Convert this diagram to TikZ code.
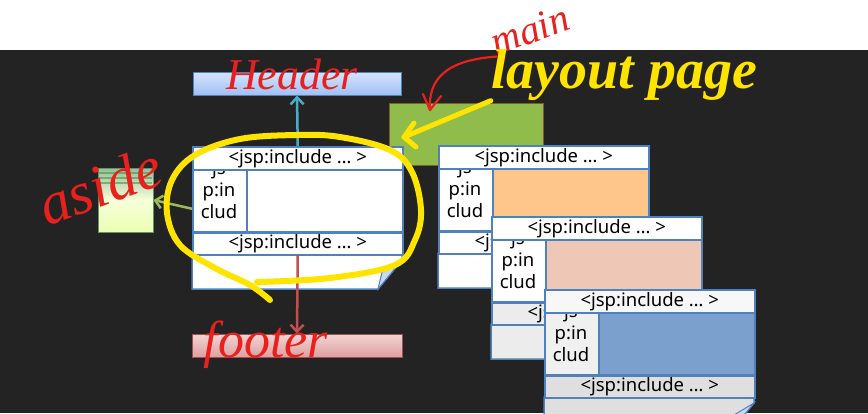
\documentclass[tikz,border=0pt]{standalone}
\usepackage{fontspec}
\setmainfont{Noto Sans}
\newfontfamily\handfont{Liberation Serif}
\usetikzlibrary{arrows.meta, positioning}

\definecolor{bgdark}{HTML}{232323}
\definecolor{tplblue}{HTML}{4F81BD}
\definecolor{inkred}{HTML}{E8201E}
\definecolor{inkyellow}{HTML}{FFE400}

% one jsp page: name, top left, content fill, side fill, head fill, lower fill
\newcommand{\jsppage}[6]{%
  \begin{scope}[shift={#2}]
    \filldraw[tplline, fill=#6] (0,108) -- (210,108) -- (210,114) -- (186,143) -- (0,143) -- cycle;
    \filldraw[foldline] (186,143) .. controls (188,134) .. (190,126) -- (210,114) -- cycle;
    \node[cell, fill=#6, minimum width=210pt, minimum height=22pt] (#1-inc) at (0,86) {<jsp:include … >};
    \node[cell, fill=#4, minimum width=54pt, minimum height=62pt] (#1-left) at (0,23) {};
    \node[cell, fill=#3, minimum width=156pt, minimum height=62pt] (#1-main) at (54,23) {};
    \node[celltext] (#1-txt) at (27,44) {js\\p:in\\clud};
    \node[cell, fill=#5, minimum width=210pt, minimum height=23pt] (#1-head) at (0,0) {<jsp:include … >};
  \end{scope}}

\begin{document}
\begin{tikzpicture}[
    x=1pt, y=-1pt,
    cell/.style={draw=tplblue, line width=1.5pt, anchor=north west, inner sep=0pt,
                 font=\fontsize{18.5}{18.5}\selectfont},
    celltext/.style={align=center, inner sep=0pt, font=\fontsize{18.5}{22}\selectfont},
    tplline/.style={draw=tplblue, line width=1.5pt},
    foldline/.style={draw=tplblue, line width=1pt, fill=tplblue!30!white},
    bar/.style={draw, line width=1pt, minimum width=208pt, minimum height=23pt, inner sep=0pt},
    link/.style={line width=2.5pt, -{Straight Barb[length=7pt, width=13pt]}},
    hand/.style={inkred, font=\handfont\itshape\fontsize{44}{44}\selectfont, inner sep=0pt},
    handline/.style={inkred, line width=2.2pt, line cap=round, line join=round},
    marker/.style={inkyellow, line width=6pt, line cap=round, line join=round}
]
\useasboundingbox (0,0) rectangle (868,413);
\clip (0,0) rectangle (868,413);

% screen
\fill[white] (0,0) rectangle (868,50);
\fill[bgdark] (0,50) rectangle (868,413);

% boxes
\node[bar, draw=tplblue, top color={rgb,255:red,214;green,228;blue,252}, bottom color={rgb,255:red,160;green,192;blue,244}] (hdr) at (297,83.5) {};
\node[draw=brown!70!black, line width=0.8pt, fill={rgb,255:red,143;green,188;blue,75},
      minimum width=154pt, minimum height=62pt, inner sep=0pt] (mainbox) at (466,134) {};
\node[draw=green!30!black!60, line width=1pt, top color=green!35!black!40!white, bottom color=lime!30!white,
      middle color=lime!15!white, minimum width=55pt, minimum height=64pt, inner sep=0pt] (aside) at (125.5,200) {};
\foreach \s in {172,177,182}
  \fill[green!40!black!70, opacity=0.6] (99,\s) rectangle (152,\s+2);
\node[bar, minimum width=210pt, draw={rgb,255:red,160;green,80;blue,80}, top color={rgb,255:red,242;green,212;blue,212}, bottom color={rgb,255:red,222;green,160;blue,160}] (ftr) at (297,345.5) {};

% jsp pages
\jsppage{pa}{(192,146)}{white}{white}{white}{white}
\jsppage{pb}{(438,145)}{orange!45!white}{white}{white}{white}
\jsppage{pc}{(491,216)}{red!25!brown!35!white}{white}{white}{gray!15}
\jsppage{pd}{(544,289)}{tplblue!75!white}{gray!12}{gray!6}{gray!25}

% links
\draw[link, color={rgb,255:red,75;green,172;blue,198}] (pa-head.north) -- (hdr.south);
\draw[link, color={rgb,255:red,192;green,80;blue,77}] (pa-inc.south) -- (ftr.north);
\draw[link, color={rgb,255:red,155;green,187;blue,89}] ([yshift=-8pt]pa-left.west) -- (aside.east);

% notes on top
\draw[marker] plot[smooth, tension=0.6] coordinates {(257,282) (330,278) (395,265) (415,240) (421,210)
  (412,172) (390,150) (340,137) (297,135) (240,139) (195,155) (172,180) (167,213) (180,245) (215,268) (250,285) (270,300)};

\node[hand] (lblhdr) at (292,74) {Header};
\node[hand, rotate=20, font=\handfont\itshape\fontsize{40}{40}\selectfont] (lblmain) at (530,30) {main};
\node[hand, rotate=20, font=\handfont\itshape\fontsize{60}{60}\selectfont] (lblaside) at (100,186) {aside};
\node[hand, font=\handfont\itshape\fontsize{52}{52}\selectfont] (lblfoot) at (266,345) {footer};
\node[hand, inkyellow, font=\handfont\bfseries\itshape\fontsize{56}{56}\selectfont] (lbllayout) at (624,75) {layout page};

\coordinate (maintip) at (430,110);
\coordinate (layouttip) at (404,137);
\draw[handline] (lblmain.south west) .. controls (445,60) and (428,80) .. (maintip);
\draw[handline] (maintip) -- (423,94) (maintip) -- (441,96);
\draw[marker, line width=5pt] (lbllayout.south west) -- (layouttip);
\draw[marker, line width=5pt] (414,123) -- (layouttip) -- (416,147);
\end{tikzpicture}
\end{document}
